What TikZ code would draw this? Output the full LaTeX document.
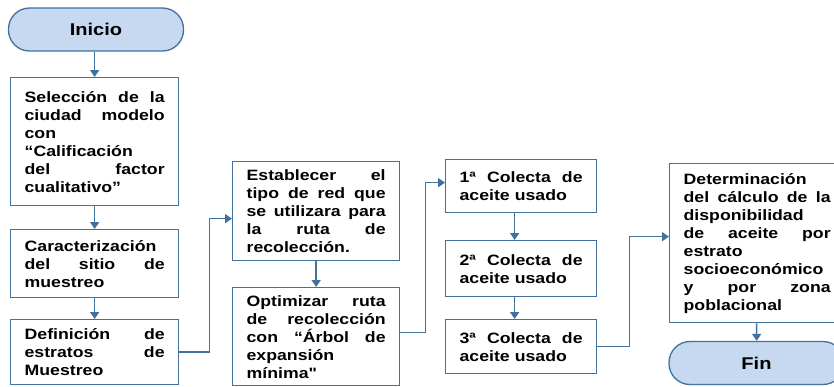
\documentclass[tikz,border=0pt]{standalone}
\usepackage{fontspec}
\setmainfont{Liberation Sans}[FakeStretch=1.18, Ligatures=TeXOff]
\usetikzlibrary{arrows.meta}
\definecolor{lineblue}{HTML}{41719C}
\definecolor{capsule}{HTML}{C6D9F1}
\def \jl#1{\makebox[\linewidth][s]{\spaceskip=\fontdimen2\font plus 1fil\relax #1}}

\begin{document}
\begin{tikzpicture}[x=1pt, y=-1pt,
box/.style={draw=lineblue, line width=1.3pt, anchor=north west, align=left, inner xsep=14pt, inner ysep=2pt, font=\bfseries\fontsize{15}{18}\selectfont},
term/.style={draw=lineblue, fill=capsule, line width=1.3pt, rounded corners=21pt, minimum width=175pt, minimum height=43pt, font=\bfseries\fontsize{17}{20}\selectfont},
arr/.style={draw=lineblue, line width=1.5pt, -{Triangle[width=9pt,length=7pt]}}]

\useasboundingbox (0,0) rectangle (834,386);

\node[term] (inicio) at (96,29.5) {Inicio};

\node[box, text width=140pt, minimum height=128pt] (sel) at (10,77)
{\jl{Selección de la}\\ \jl{ciudad modelo}\\ con\\ “Calificación\\ \jl{del factor}\\ cualitativo”};
\node[box, text width=140pt, minimum height=68pt] (car) at (10,229)
{Caracterización\\ \jl{del sitio de}\\ muestreo};
\node[box, text width=140pt, minimum height=65pt] (dfn) at (10,319)
{\jl{Definición de}\\ \jl{estratos de}\\ Muestreo};

\node[box, text width=139pt, minimum height=99pt] (red) at (232,161)
{\jl{Establecer el}\\ \jl{tipo de red que}\\ \jl{se utilizara para}\\ \jl{la ruta de}\\ recolección.};
\node[box, text width=139pt, minimum height=98pt] (opt) at (232,287)
{\jl{Optimizar ruta}\\ \jl{de recolección}\\ \jl{con “Árbol de}\\ expansión\\ mínima"};

\node[box, text width=123pt, minimum height=53pt] (c1) at (445,159)
{\jl{1ª Colecta de}\\ aceite usado};
\node[box, text width=123pt, minimum height=56pt] (c2) at (445,240)
{\jl{2ª Colecta de}\\ aceite usado};
\node[box, text width=123pt, minimum height=54pt] (c3) at (445,319)
{\jl{3ª Colecta de}\\ aceite usado};

\node[box, text width=147pt, minimum height=159pt] (det) at (669,163)
{Determinación\\ \jl{del cálculo de la}\\ disponibilidad\\ \jl{de aceite por}\\ estrato\\ socioeconómico\\ \jl{y por zona}\\ poblacional};
\node[term] (fin) at (756.5,363) {Fin};

\draw[arr] (inicio.south -| sel.north) -- (sel.north);
\draw[arr] (sel) -- (car);
\draw[arr] (car) -- (dfn);
\draw[arr] (red) -- (opt);
\draw[arr] ([xshift=-6.5pt]c1.south) -- ([xshift=-6.5pt]c2.north);
\draw[arr] ([xshift=-6.5pt]c2.south) -- ([xshift=-6.5pt]c3.north);
\draw[arr] (det) -- (fin);

\draw[arr] (dfn.east) -- ++(30,0) |- ([yshift=-7.5pt]red.west);
\draw[arr] ([yshift=4pt]opt.east) -- ++(25,0) |- ([yshift=3.5pt]c1.west);
\draw[arr] (c3.east) -- ++(32,0) |- ([yshift=6.5pt]det.west);

\end{tikzpicture}
\end{document}
